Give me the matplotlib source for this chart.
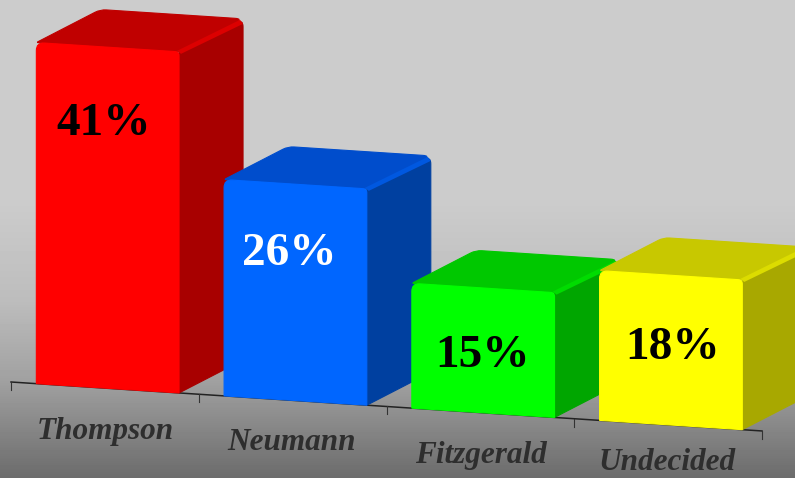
import numpy as np
import matplotlib
matplotlib.use("Agg")
import matplotlib.pyplot as plt
from matplotlib.patches import PathPatch, Polygon
from matplotlib.path import Path

candidates = ["Thompson", "Neumann", "Fitzgerald", "Undecided"]
percent = [41, 26, 15, 18]

front_colors = ["#ff0000", "#0066ff", "#00ff00", "#ffff00"]
top_colors = ["#c00000", "#004dcc", "#00c800", "#c8c800"]
side_colors = ["#a80000", "#0040a0", "#00a600", "#a8a800"]
bevel_colors = ["#dc0000", "#0058e0", "#00dc00", "#dcdc00"]
value_colors = ["black", "white", "black", "black"]

# baseline runs downhill from left to right
X0, Y0 = 11, 382
SLOT = 187.75
SLOPE = 0.0652
PX_PER_PCT = 8.32
DX, DY = 64, -33
BAR_START = 0.135
BAR_WIDTH = 0.76


def px(cat, val=0):
    x = X0 + SLOT * cat
    return x, Y0 + SLOPE * (x - X0) - PX_PER_PCT * val


def back(p):
    return p[0] + DX, p[1] + DY


def face(ax, pts, color, z, radii=None):
    # polygon with optional rounded corners (one radius per corner)
    pts = [np.array(p, dtype=float) for p in pts]
    radii = radii or [0] * len(pts)
    verts, codes = [], []
    n = len(pts)
    for k in range(n):
        p, prev, nxt = pts[k], pts[k - 1], pts[(k + 1) % n]
        r = radii[k]
        a = p + (prev - p) / np.linalg.norm(prev - p) * r
        b = p + (nxt - p) / np.linalg.norm(nxt - p) * r
        verts.append(a)
        codes.append(Path.MOVETO if k == 0 else Path.LINETO)
        if r > 0:
            verts += [p, b]
            codes += [Path.CURVE3, Path.CURVE3]
    verts.append(verts[0])
    codes.append(Path.CLOSEPOLY)
    ax.add_patch(PathPatch(Path(verts, codes), facecolor=color, edgecolor=color,
                           linewidth=0.8, zorder=z))


fig = plt.figure(figsize=(7.95, 4.78), dpi=100)
ax = fig.add_axes([0, 0, 1, 1])
ax.set_xlim(0, 795)
ax.set_ylim(478, 0)
ax.axis("off")

# background
stops_y = [0, 200, 300, 380, 478]
stops_g = [0.80, 0.80, 0.74, 0.63, 0.42]
grad = np.interp(np.arange(478), stops_y, stops_g).reshape(-1, 1)
ax.imshow(grad, cmap="gray", vmin=0, vmax=1, extent=(0, 795, 478, 0), aspect="auto", zorder=0)

# axis line and ticks
x1, y1 = px(0)
x2, y2 = px(len(candidates))
ax.plot([x1, x2], [y1, y2], color="#222222", lw=1.1, zorder=1)
for i in range(len(candidates) + 1):
    tx, ty = px(i)
    ax.plot([tx, tx], [ty, ty + 8], color="#333333", lw=0.8, zorder=1)

# bars, left to right so each one covers the side of the previous one
value_drop = [81, 74, 73, 77]
value_dx = [-4, -6, -1, 2]
label_pos = [(105, 431), (292, 443), (481, 455), (667, 463)]

for i, (name, val) in enumerate(zip(candidates, percent)):
    z = 2 + i
    bl = px(i + BAR_START)
    br = px(i + BAR_START + BAR_WIDTH)
    tl = px(i + BAR_START, val)
    tr = px(i + BAR_START + BAR_WIDTH, val)

    face(ax, [br, tr, back(tr), back(br)], side_colors[i], z, [0, 0, 8, 0])
    face(ax, [tl, tr, back(tr), back(tl)], top_colors[i], z, [2, 0, 8, 6])
    # lighter strip where top and side meet
    b = back(tr)
    ax.add_patch(Polygon([(tr[0] - 2, tr[1] - 1), (tr[0] + 2, tr[1] + 2),
                          (b[0], b[1] + 5), (b[0] - 3, b[1] + 1)],
                         closed=True, facecolor=bevel_colors[i], edgecolor="none", zorder=z))
    face(ax, [bl, tl, tr, br], front_colors[i], z, [0, 8, 4, 0])

    cx = (bl[0] + br[0]) / 2
    ax.text(cx + value_dx[i], tl[1] + value_drop[i], f"{val}%", color=value_colors[i],
            fontsize=34, fontweight="bold", family="Liberation Serif",
            ha="center", va="center", zorder=10)
    ax.text(label_pos[i][0], label_pos[i][1], name, color="#2e2e2e", fontsize=22.5,
            fontweight="bold", fontstyle="italic", family="Liberation Serif",
            ha="center", va="center", zorder=10)

fig.savefig("out.png", dpi=100)
